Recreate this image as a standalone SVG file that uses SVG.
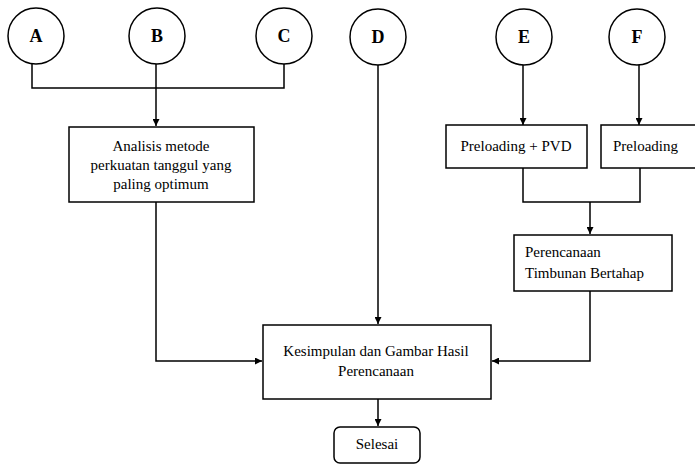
<svg xmlns="http://www.w3.org/2000/svg" width="695" height="464" viewBox="0 0 695 464">
<defs>
<marker id="arr" viewBox="0 0 10 10" refX="10" refY="5" markerWidth="7" markerHeight="7" markerUnits="userSpaceOnUse" orient="auto">
<path d="M0,0 L10,5 L0,10 z" fill="#000"/>
</marker>
<style>
.n{fill:#fff;stroke:#000;stroke-width:1.5}
.c{fill:none;stroke:#000;stroke-width:1.5}
.t{font-family:"Liberation Serif","Times New Roman",serif;font-size:15px;fill:#000}
.l{font-family:"Liberation Serif","Times New Roman",serif;font-size:18px;font-weight:bold;fill:#000}
</style>
</defs>
<rect width="695" height="464" fill="#fff"/>
<g id="connectors">
<path class="c" d="M32,64 V88 H284 V64"/>
<path class="c" d="M156,64 V126" marker-end="url(#arr)"/>
<path class="c" d="M523,65 V125" marker-end="url(#arr)"/>
<path class="c" d="M639,65 V125" marker-end="url(#arr)"/>
<path class="c" d="M523,168 V202 H640 V168"/>
<path class="c" d="M590,202 V234" marker-end="url(#arr)"/>
<path class="c" d="M378,65 V324" marker-end="url(#arr)"/>
<path class="c" d="M156,202 V361 H262" marker-end="url(#arr)"/>
<path class="c" d="M590,291 V361 H492" marker-end="url(#arr)"/>
<path class="c" d="M378,399 V426" marker-end="url(#arr)"/>
</g>
<g id="A"><circle class="n" cx="36" cy="36" r="28"/><text class="l" x="36" y="42" text-anchor="middle">A</text></g>
<g id="B"><circle class="n" cx="157" cy="36" r="28"/><text class="l" x="157" y="42" text-anchor="middle">B</text></g>
<g id="C"><circle class="n" cx="284" cy="36" r="28"/><text class="l" x="284" y="42" text-anchor="middle">C</text></g>
<g id="D"><circle class="n" cx="378" cy="37" r="28"/><text class="l" x="378" y="43" text-anchor="middle">D</text></g>
<g id="E"><circle class="n" cx="524" cy="37" r="28"/><text class="l" x="524" y="43" text-anchor="middle">E</text></g>
<g id="F"><circle class="n" cx="637" cy="37" r="28"/><text class="l" x="637" y="43" text-anchor="middle">F</text></g>
<g id="analisis"><rect class="n" x="69" y="127" width="185" height="75"/>
<text class="t" text-anchor="middle"><tspan x="161" y="151">Analisis metode</tspan><tspan x="161" y="170">perkuatan tanggul yang</tspan><tspan x="161" y="189">paling optimum</tspan></text></g>
<g id="pvd"><rect class="n" x="446" y="125" width="141" height="43"/><text class="t" x="516" y="151" text-anchor="middle">Preloading + PVD</text></g>
<g id="preloading"><rect class="n" x="601" y="125" width="100" height="43"/><text class="t" x="613" y="151">Preloading</text></g>
<g id="perencanaan"><rect class="n" x="514" y="235" width="158" height="56"/>
<text class="t"><tspan x="525" y="257">Perencanaan</tspan><tspan x="525" y="278">Timbunan Bertahap</tspan></text></g>
<g id="kesimpulan"><rect class="n" x="263" y="325" width="228" height="74"/>
<text class="t" text-anchor="middle"><tspan x="376" y="356">Kesimpulan dan Gambar Hasil</tspan><tspan x="376" y="376">Perencanaan</tspan></text></g>
<g id="selesai"><rect class="n" x="334" y="427" width="86" height="36" rx="6"/><text class="t" x="377" y="449" text-anchor="middle">Selesai</text></g>
</svg>
